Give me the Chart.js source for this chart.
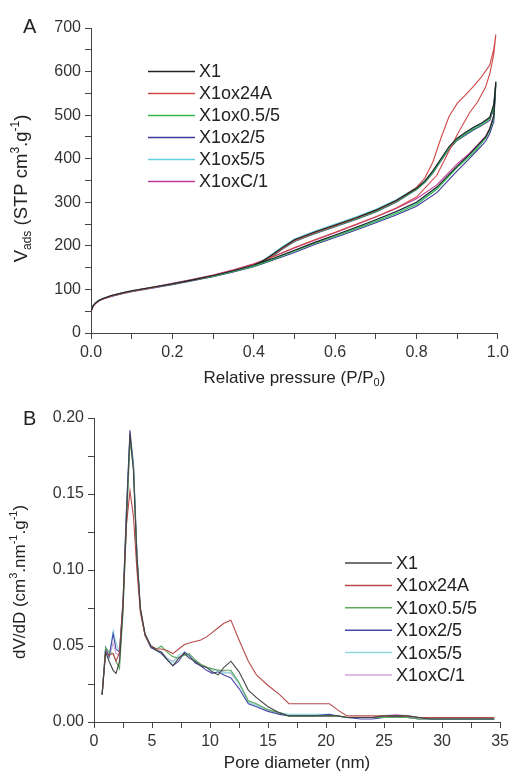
<!DOCTYPE html>
<html>
<head>
<meta charset="utf-8">
<script src="https://cdn.jsdelivr.net/npm/chart.js@4.4.1/dist/chart.umd.min.js"></script>
<style>
  body { margin: 0; background: #fff; }
  canvas { position: absolute; left: 0; }
  #chartA { top: 0; }
  #chartB { top: 390px; }
</style>
</head>
<body>
<canvas id="chartA" width="513" height="390"></canvas>
<canvas id="chartB" width="513" height="381"></canvas>
<script>
// Panel A - N2 isotherms (adsorption then desorption branch)
const pressureAds = [0, 0.005, 0.01, 0.02, 0.03, 0.05, 0.08, 0.1, 0.15, 0.2, 0.25, 0.3, 0.35, 0.4, 0.45, 0.5, 0.55, 0.6, 0.65, 0.7, 0.75, 0.8, 0.85, 0.9, 0.93, 0.95, 0.97, 0.98, 0.99, 0.995];
const pressureDes = [0.99, 0.98, 0.96, 0.94, 0.92, 0.9, 0.88, 0.86, 0.84, 0.82, 0.8, 0.75, 0.7, 0.65, 0.6, 0.55, 0.5, 0.47, 0.44, 0.42, 0.4];

const adsX1 = [50, 62, 68, 75, 79, 86, 93, 97, 105, 113, 122, 132, 143, 156, 172, 190, 208, 225, 242, 260, 279, 300, 335, 383, 410, 430, 450, 468, 498, 577];
const desX1 = [525, 495, 482, 472, 460, 447, 428, 400, 372, 348, 332, 304, 282, 264, 248, 232, 214, 196, 176, 164, 156];
const ads24A = [50, 61, 67, 74, 78, 85, 92, 96, 104, 113, 122, 132, 144, 158, 176, 196, 214, 231, 249, 267, 287, 312, 362, 455, 505, 530, 565, 595, 640, 685];
const des24A = [652, 615, 588, 566, 546, 527, 497, 447, 392, 355, 334, 303, 281, 263, 246, 230, 212, 194, 175, 164, 157];
const ads05 = [50, 62, 68, 75, 79, 85, 92, 96, 104, 112, 121, 130, 141, 153, 170, 188, 206, 222, 239, 256, 274, 295, 330, 380, 405, 425, 447, 465, 495, 575];
const des05 = [520, 492, 478, 468, 456, 443, 423, 396, 368, 346, 330, 301, 279, 261, 245, 229, 211, 193, 173, 161, 153];
const ads25 = [49, 61, 67, 74, 78, 84, 91, 95, 103, 111, 120, 129, 140, 152, 168, 185, 203, 219, 236, 253, 271, 291, 322, 372, 400, 420, 440, 458, 485, 570];
const des25 = [515, 488, 476, 466, 454, 442, 422, 395, 367, 345, 329, 300, 278, 260, 244, 228, 210, 192, 172, 160, 152];
const ads55 = [51, 63, 69, 76, 80, 86, 93, 97, 105, 113, 122, 131, 142, 155, 171, 189, 207, 224, 241, 258, 277, 298, 332, 382, 408, 428, 448, 466, 496, 574];
const des55 = [522, 494, 481, 471, 459, 446, 426, 399, 371, 349, 334, 306, 284, 266, 250, 234, 216, 198, 178, 165, 156];
const adsC1 = [50, 62, 68, 75, 79, 86, 93, 97, 105, 114, 123, 133, 145, 159, 176, 195, 213, 230, 248, 266, 286, 308, 340, 388, 412, 432, 452, 470, 500, 576];
const desC1 = [523, 494, 480, 470, 458, 445, 425, 398, 370, 347, 331, 303, 281, 263, 247, 231, 213, 195, 176, 165, 158];

// Panel B - pore size distribution
const diameter = [0.7, 1.0, 1.3, 1.65, 1.9, 2.2, 2.5, 2.8, 3.1, 3.4, 3.7, 4.0, 4.4, 4.9, 5.4, 5.8, 6.3, 6.8, 7.3, 7.8, 8.2, 8.7, 9.2, 9.7, 10.2, 10.7, 11.2, 11.8, 12.5, 13.3, 14.0, 15.0, 16.0, 16.8, 18.0, 19.0, 20.3, 21.0, 21.8, 23.0, 24.0, 25.0, 26.0, 27.0, 28.0, 29.0, 30.0, 32.0, 34.5];
const psdX1 = [0.018, 0.046, 0.040, 0.034, 0.032, 0.040, 0.075, 0.135, 0.190, 0.165, 0.108, 0.075, 0.058, 0.050, 0.047, 0.046, 0.041, 0.037, 0.042, 0.045, 0.042, 0.040, 0.037, 0.036, 0.033, 0.031, 0.036, 0.040, 0.033, 0.021, 0.016, 0.010, 0.006, 0.004, 0.004, 0.004, 0.004, 0.004, 0.003, 0.003, 0.003, 0.004, 0.004, 0.004, 0.003, 0.002, 0.002, 0.002, 0.002];
const psd24A = [0.018, 0.046, 0.044, 0.045, 0.040, 0.046, 0.080, 0.130, 0.152, 0.135, 0.100, 0.072, 0.057, 0.050, 0.048, 0.048, 0.047, 0.045, 0.048, 0.051, 0.052, 0.053, 0.054, 0.056, 0.059, 0.062, 0.065, 0.067, 0.054, 0.040, 0.031, 0.024, 0.018, 0.012, 0.012, 0.012, 0.012, 0.008, 0.004, 0.004, 0.004, 0.004, 0.004, 0.004, 0.003, 0.003, 0.003, 0.003, 0.003];
const psd05 = [0.018, 0.049, 0.046, 0.045, 0.040, 0.035, 0.072, 0.130, 0.185, 0.168, 0.108, 0.073, 0.057, 0.050, 0.048, 0.050, 0.046, 0.043, 0.042, 0.044, 0.045, 0.041, 0.038, 0.036, 0.035, 0.034, 0.034, 0.034, 0.026, 0.014, 0.012, 0.008, 0.006, 0.004, 0.004, 0.004, 0.004, 0.004, 0.003, 0.003, 0.003, 0.003, 0.003, 0.003, 0.002, 0.002, 0.002, 0.002, 0.002];
const psd25 = [0.018, 0.049, 0.043, 0.058, 0.048, 0.046, 0.078, 0.140, 0.192, 0.168, 0.110, 0.074, 0.057, 0.049, 0.047, 0.045, 0.041, 0.037, 0.040, 0.046, 0.044, 0.039, 0.037, 0.034, 0.032, 0.033, 0.031, 0.029, 0.022, 0.012, 0.010, 0.007, 0.005, 0.004, 0.004, 0.004, 0.005, 0.004, 0.003, 0.002, 0.002, 0.003, 0.004, 0.003, 0.002, 0.002, 0.002, 0.002, 0.002];
const psd55 = [0.018, 0.047, 0.042, 0.060, 0.052, 0.046, 0.080, 0.142, 0.188, 0.172, 0.112, 0.074, 0.058, 0.050, 0.047, 0.046, 0.042, 0.039, 0.044, 0.046, 0.043, 0.040, 0.037, 0.036, 0.034, 0.034, 0.032, 0.033, 0.025, 0.013, 0.011, 0.008, 0.006, 0.005, 0.005, 0.005, 0.005, 0.004, 0.003, 0.003, 0.003, 0.004, 0.004, 0.004, 0.003, 0.002, 0.002, 0.002, 0.002];
const psdC1 = [0.018, 0.046, 0.042, 0.052, 0.045, 0.044, 0.078, 0.138, 0.186, 0.170, 0.110, 0.073, 0.057, 0.049, 0.047, 0.046, 0.042, 0.040, 0.043, 0.045, 0.043, 0.040, 0.038, 0.036, 0.035, 0.034, 0.033, 0.032, 0.025, 0.013, 0.011, 0.008, 0.006, 0.004, 0.004, 0.004, 0.004, 0.004, 0.003, 0.003, 0.003, 0.004, 0.005, 0.004, 0.003, 0.002, 0.002, 0.002, 0.002];

const seriesNames = ['X1', 'X1ox24A', 'X1ox0.5/5', 'X1ox2/5', 'X1ox5/5', 'X1oxC/1'];
const colorsA = ['#222222', '#d04848', '#33b84a', '#3a3a9a', '#66d0e0', '#c03a9a'];
const colorsB = ['#444444', '#b84a4a', '#5aaa5a', '#4848a8', '#8fd8e0', '#d0a8d8'];

const FONT = '"Liberation Sans", Arial, sans-serif';

function toPoints(xs, ys) {
    return xs.map((x, i) => ({ x: x, y: ys[i] }));
}

// draw text with sub/superscript parts
function drawRich(ctx, parts, cx, cy, size) {
    const small = Math.round(size * 0.65);
    let total = 0;
    parts.forEach(p => {
        ctx.font = (p.sub || p.sup ? small : size) + 'px ' + FONT;
        total += ctx.measureText(p.t).width;
    });
    let x = cx - total / 2;
    ctx.textAlign = 'left';
    ctx.textBaseline = 'middle';
    parts.forEach(p => {
        ctx.font = (p.sub || p.sup ? small : size) + 'px ' + FONT;
        let dy = 0;
        if (p.sub) dy = size * 0.32;
        if (p.sup) dy = -size * 0.35;
        ctx.fillText(p.t, x, cy + dy);
        x += ctx.measureText(p.t).width;
    });
}

const decorPlugin = {
    id: 'decor',
    afterDraw(chart, args, opts) {
        const ctx = chart.ctx;
        const area = chart.chartArea;
        ctx.save();
        ctx.fillStyle = '#222';
        ctx.font = '20px ' + FONT;
        ctx.textAlign = 'left';
        ctx.textBaseline = 'middle';
        ctx.fillText(opts.letter, opts.letterX, opts.letterY);

        drawRich(ctx, opts.xTitle, (area.left + area.right) / 2, opts.xTitleY, 17);

        ctx.save();
        ctx.translate(opts.yTitleX, (area.top + area.bottom) / 2 + opts.yTitleShift);
        ctx.rotate(-Math.PI / 2);
        drawRich(ctx, opts.yTitle, 0, 0, opts.yTitleSize);
        ctx.restore();

        // legend
        chart.data.datasets.forEach((ds, i) => {
            const y = opts.legendY + i * opts.legendGap;
            ctx.strokeStyle = ds.borderColor;
            ctx.lineWidth = 1.5;
            ctx.beginPath();
            ctx.moveTo(opts.legendX, y);
            ctx.lineTo(opts.legendX + 47, y);
            ctx.stroke();
            ctx.fillStyle = '#222';
            ctx.font = '18px ' + FONT;
            ctx.textAlign = 'left';
            ctx.fillText(ds.label, opts.legendX + 51, y + 1);
        });
        ctx.restore();
    }
};

function axisStyle() {
    return {
        grid: { display: true, drawOnChartArea: false, drawTicks: true, tickLength: 6, color: '#444', tickColor: '#444' },
        border: { display: true, color: '#444', width: 1 },
        ticks: { color: '#333', font: { family: FONT, size: 16 }, padding: 4, autoSkip: false, maxRotation: 0 }
    };
}

function makeOptions(cfg) {
    const x = axisStyle();
    const y = axisStyle();
    Object.assign(x, { type: 'linear', min: cfg.xMin, max: cfg.xMax, afterFit: s => { s.height = cfg.xHeight; } });
    x.ticks.stepSize = cfg.xStep;
    x.ticks.callback = cfg.xLabel;
    Object.assign(y, { type: 'linear', min: cfg.yMin, max: cfg.yMax, afterFit: s => { s.width = cfg.yWidth; } });
    y.ticks.stepSize = cfg.yStep;
    y.ticks.callback = cfg.yLabel;
    return {
        responsive: false,
        animation: false,
        devicePixelRatio: 1,
        layout: { padding: { top: cfg.top, right: cfg.right, left: 0, bottom: 0 } },
        elements: { point: { radius: 0 }, line: { borderWidth: 1.1, tension: 0 } },
        plugins: { legend: { display: false }, tooltip: { enabled: false }, decor: cfg.decor },
        scales: { x: x, y: y }
    };
}

// Chart A
const adsSets = [adsX1, ads24A, ads05, ads25, ads55, adsC1];
const desSets = [desX1, des24A, des05, des25, des55, desC1];
new Chart(document.getElementById('chartA'), {
    type: 'scatter',
    data: {
        datasets: seriesNames.map((name, i) => ({
            label: name,
            data: toPoints(pressureAds, adsSets[i]).concat(toPoints(pressureDes, desSets[i])),
            showLine: true,
            borderColor: colorsA[i],
            backgroundColor: colorsA[i]
        }))
    },
    options: makeOptions({
        xMin: 0, xMax: 1, xStep: 0.1, xHeight: 57,
        xLabel: v => (Math.round(v * 10) % 2 === 0 ? v.toFixed(1) : ''),
        yMin: 0, yMax: 700, yStep: 50, yWidth: 91,
        yLabel: v => (v % 100 === 0 ? v : ''),
        top: 28, right: 13,
        decor: {
            letter: 'A', letterX: 23, letterY: 27,
            xTitle: [{ t: 'Relative pressure (P/P' }, { t: '0', sub: true }, { t: ')' }],
            xTitleY: 378,
            yTitle: [{ t: 'V' }, { t: 'ads', sub: true }, { t: ' (STP cm' }, { t: '3', sup: true }, { t: '.g' }, { t: '-1', sup: true }, { t: ')' }],
            yTitleX: 22, yTitleSize: 18.5, yTitleShift: 8,
            legendX: 148, legendY: 71.5, legendGap: 22
        }
    }),
    plugins: [decorPlugin]
});

// Chart B
const psdSets = [psdX1, psd24A, psd05, psd25, psd55, psdC1];
new Chart(document.getElementById('chartB'), {
    type: 'scatter',
    data: {
        datasets: seriesNames.map((name, i) => ({
            label: name,
            data: toPoints(diameter, psdSets[i]),
            showLine: true,
            borderColor: colorsB[i],
            backgroundColor: colorsB[i]
        }))
    },
    options: makeOptions({
        xMin: 0, xMax: 35, xStep: 2.5, xHeight: 49,
        xLabel: v => (Math.round(v * 10) % 50 === 0 ? v : ''),
        yMin: 0, yMax: 0.2, yStep: 0.025, yWidth: 94,
        yLabel: v => (Math.round(v * 1000) % 50 === 0 ? v.toFixed(2) : ''),
        top: 28, right: 10,
        decor: {
            letter: 'B', letterX: 23, letterY: 29,
            xTitle: [{ t: 'Pore diameter (nm)' }],
            xTitleY: 373,
            yTitle: [{ t: 'dV/dD (cm' }, { t: '3', sup: true }, { t: '.nm' }, { t: '-1', sup: true }, { t: '.g' }, { t: '-1', sup: true }, { t: ')' }],
            yTitleX: 20, yTitleSize: 17, yTitleShift: 12,
            legendX: 345, legendY: 173, legendGap: 22.4
        }
    }),
    plugins: [decorPlugin]
});
</script>
</body>
</html>
